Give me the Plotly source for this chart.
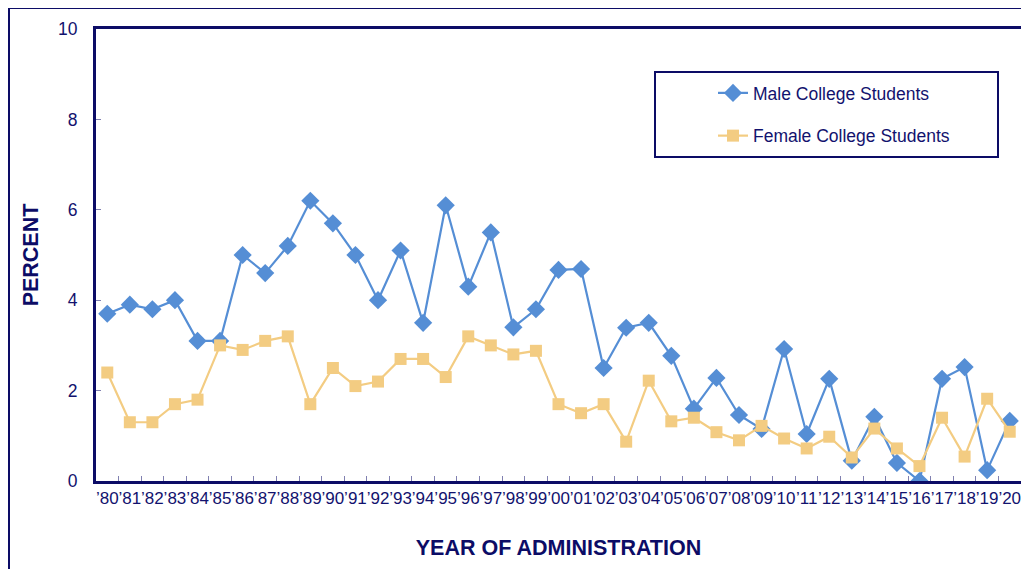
import plotly.graph_objects as go

years = ["’80","’81","’82","’83","’84","’85","’86","’87","’88","’89",
         "’90","’91","’92","’93","’94","’95","’96","’97","’98","’99",
         "’00","’01","’02","’03","’04","’05","’06","’07","’08","’09",
         "’10","’11","’12","’13","’14","’15","’16","’17","’18","’19","’20"]

male = [3.7, 3.9, 3.8, 4.0, 3.1, 3.1, 5.0, 4.6, 5.2, 6.2,
        5.7, 5.0, 4.0, 5.1, 3.5, 6.1, 4.3, 5.5, 3.4, 3.8,
        4.67, 4.69, 2.5, 3.39, 3.5, 2.77, 1.6, 2.28, 1.46, 1.15,
        2.92, 1.04, 2.26, 0.45, 1.42, 0.4, 0.0, 2.26, 2.52, 0.24, 1.33]

female = [2.4, 1.3, 1.3, 1.7, 1.8, 3.0, 2.9, 3.1, 3.2, 1.7,
          2.5, 2.1, 2.2, 2.7, 2.7, 2.3, 3.2, 3.0, 2.8, 2.88,
          1.7, 1.5, 1.7, 0.87, 2.22, 1.32, 1.4, 1.08, 0.9, 1.22,
          0.94, 0.72, 0.98, 0.52, 1.16, 0.72, 0.33, 1.4, 0.54, 1.82, 1.09]

NAVY = "#0c0c66"
TEXT = "#12126e"
BLUE = "#558ED5"
GOLD = "#F3CC82"

# page is offset by 8px body margin
W, H = 1021, 561
L, T, R, B = 88, 21, 8, 88
PW, PH = W - L - R, H - T - B

def px(x):
    return (x - 8 - L) / PW

def py(y):
    return (H - B - (y - 8)) / PH

fig = go.Figure()
fig.add_trace(go.Scatter(x=years, y=male, mode="lines+markers", name="Male College Students",
                         legendgroup="m",
                         line=dict(color=BLUE, width=2.2),
                         marker=dict(symbol="diamond", size=14, color=BLUE)))
fig.add_trace(go.Scatter(x=years, y=female, mode="lines+markers", name="Female College Students",
                         legendgroup="f",
                         line=dict(color=GOLD, width=2.2),
                         marker=dict(symbol="square", size=12, color=GOLD)))

fig.update_layout(
    width=W, height=H,
    margin=dict(l=L, r=R, t=T, b=B, autoexpand=False),
    paper_bgcolor="white", plot_bgcolor="white",
    font=dict(family="Liberation Sans, Arial, sans-serif", color=TEXT, size=17),
    showlegend=True,
    legend=dict(x=px(713), y=py(75), xanchor="left", yanchor="top",
                bgcolor="rgba(0,0,0,0)", borderwidth=0,
                font=dict(size=17.5, color=TEXT), tracegroupgap=17,
                traceorder="grouped"),
    xaxis=dict(type="category", range=[-0.5, 40.5], showline=True, linecolor=NAVY,
               linewidth=3, mirror=True, ticks="inside", tickson="boundaries",
               ticklen=5, tickcolor="#8080b0", tickwidth=1, showgrid=False,
               tickangle=0, automargin=False,
               tickfont=dict(size=17, color=TEXT),
               title=dict(text="<b>YEAR OF ADMINISTRATION</b>", font=dict(size=21.5, color=NAVY),
                          standoff=33)),
    yaxis=dict(range=[0, 10], dtick=2, showline=True, linecolor=NAVY, linewidth=3,
               mirror=True, ticks="inside", ticklen=5, tickcolor="#8080b0", tickwidth=1,
               showgrid=False, zeroline=False, tickfont=dict(size=17.5, color=TEXT),
               ticklabelstandoff=12, automargin=False,
               title=dict(text="<b>PERCENT</b>", font=dict(size=21.5, color=NAVY), standoff=14)),
    shapes=[
        dict(type="rect", xref="paper", yref="paper",
             x0=px(655), x1=px(998), y0=py(157), y1=py(72),
             line=dict(color=NAVY, width=2), fillcolor="rgba(0,0,0,0)"),
        dict(type="rect", xref="paper", yref="paper",
             x0=px(9), x1=px(1060), y0=py(620), y1=py(8),
             line=dict(color=NAVY, width=2), fillcolor="rgba(0,0,0,0)", layer="below"),
    ],
)

fig.write_html("out.html")
